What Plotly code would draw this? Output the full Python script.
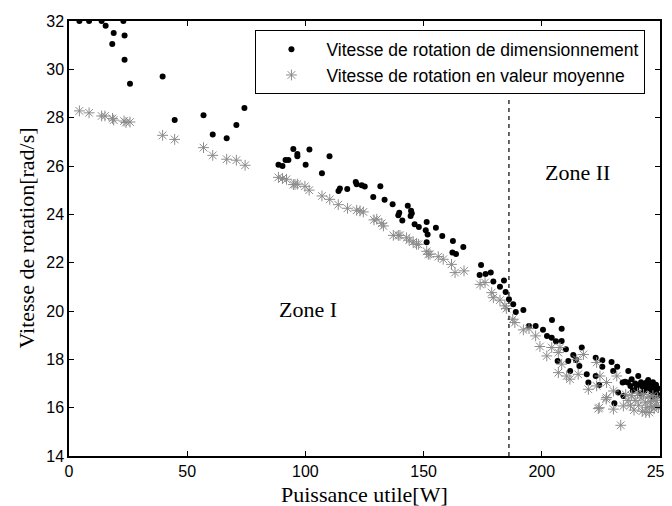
import plotly.graph_objects as go

# Vitesse de rotation de dimensionnement (points noirs)
p_dim = [4.4, 8.5, 13.8, 15.5, 18.3, 18.9, 23.0, 23.5, 23.5, 25.8,
         39.6, 44.7, 56.9, 60.8, 66.7, 70.8, 74.2,
         88.6, 90.3, 91.6, 92.8, 94.9, 96.6, 96.6, 100.1, 101.7, 107.0, 110.2,
         114.0, 114.6, 117.7, 121.3, 121.7, 123.8, 125.1, 128.7, 131.7, 133.5,
         136.9, 139.3, 139.7, 141.0, 143.3, 144.7, 145.0, 144.5, 146.2, 148.0,
         150.9, 151.3, 151.7, 151.3, 155.2, 157.9, 162.4, 162.2, 163.7, 166.8,
         174.3, 173.7, 176.2, 178.4, 179.5, 182.3, 184.0, 184.7, 186.1, 187.9,
         189.0, 192.2, 194.6, 197.4, 200.5, 202.2, 204.3, 204.2, 206.0, 206.7,
         208.4, 208.4, 210.2, 211.2, 212.0, 213.3, 214.5, 215.9, 216.9, 219.0,
         219.7, 222.8, 222.8, 224.3, 225.6, 225.6, 229.5, 230.2, 230.7, 231.9,
         232.3, 234.2, 234.5, 235.2, 236.4, 236.6, 238.0, 240.8, 244.3,
         237.5, 238.5, 239.5, 240.0, 241.0, 241.5, 242.0, 242.8, 243.5, 244.0,
         244.5, 245.0, 245.5, 246.0, 246.5, 247.0, 247.5, 248.0, 248.3, 248.6,
         249.0, 249.2, 246.8]
w_dim = [32.0, 32.0, 32.0, 31.8, 31.05, 31.5, 32.0, 31.4, 30.4, 29.4,
         29.7, 27.9, 28.1, 27.3, 27.15, 27.7, 28.4,
         26.05, 26.0, 26.25, 26.25, 26.7, 26.5, 26.4, 26.05, 26.68, 25.7, 26.4,
         24.97, 25.07, 25.05, 25.34, 25.24, 25.2, 25.15, 24.72, 25.16, 24.6,
         24.42, 23.96, 24.07, 23.75, 24.36, 24.15, 24.05, 23.93, 23.59, 23.48,
         23.34, 23.68, 23.17, 22.85, 23.45, 23.1, 22.9, 22.42, 22.36, 22.65,
         21.9, 21.49, 21.53, 21.59, 21.22, 21.0, 21.26, 20.79, 20.49, 20.28,
         19.96, 20.04, 19.38, 19.38, 19.22, 18.97, 19.63, 18.89, 18.75, 17.93,
         19.27, 18.76, 18.42, 17.93, 17.52, 18.18, 17.97, 17.72, 18.49, 17.38,
         17.04, 18.07, 17.31, 16.94, 17.96, 17.69, 17.89, 17.52, 16.18, 17.69,
         16.63, 17.04, 16.48, 17.07, 17.04, 17.52, 17.18, 17.31, 17.04,
         16.9, 16.7, 17.0, 16.8, 16.95, 16.6, 17.05, 16.85, 16.7, 17.0,
         16.9, 17.15, 16.8, 16.95, 16.65, 17.05, 16.85, 16.75, 16.95, 16.6,
         16.8, 16.5, 16.45]

# Vitesse de rotation en valeur moyenne (étoiles grises)
p_moy = [4.4, 8.5, 13.8, 15.2, 18.4, 18.9, 23.3, 24.1, 25.8,
         39.6, 44.7, 56.9, 60.8, 66.7, 70.8, 74.5,
         88.6, 90.3, 92.0, 94.9, 95.6, 96.6, 99.8, 101.6, 107.0, 110.3,
         113.9, 117.8, 121.7, 123.1, 124.5, 129.0, 130.2, 132.3, 133.0,
         137.2, 139.3, 140.0, 142.8, 143.9, 145.6, 147.0, 147.8, 151.3,
         152.0, 152.7, 156.2, 158.3, 161.8, 163.3, 167.1, 173.9, 176.0,
         178.8, 179.5, 182.3, 184.4, 185.0, 187.7, 188.6, 192.2, 194.6,
         197.4, 199.2, 202.1, 204.2, 207.0, 207.7, 208.4, 207.0, 210.5,
         211.9, 214.8, 215.4, 217.6, 219.7, 223.2, 224.6, 223.2, 227.4,
         227.2, 231.7, 230.3, 223.9, 230.3, 233.4, 234.5, 224.3, 227.4,
         236.5, 237.5, 238.0, 239.0, 239.5, 240.5, 241.0, 242.0, 242.5,
         243.0, 243.8, 244.5, 245.0, 245.5, 246.0, 246.5, 247.0, 247.5,
         248.0, 248.5, 249.0, 249.3, 244.0, 235.5]
w_moy = [28.28, 28.2, 28.07, 28.07, 27.97, 27.9, 27.86, 27.8, 27.82,
         27.27, 27.1, 26.76, 26.44, 26.28, 26.24, 26.03,
         25.53, 25.48, 25.45, 25.23, 25.24, 25.25, 25.16, 25.0, 24.76, 24.62,
         24.4, 24.25, 24.17, 24.14, 24.1, 23.77, 23.8, 23.63, 23.52,
         23.13, 23.13, 23.13, 23.03, 22.93, 22.86, 22.76, 22.76, 22.47,
         22.35, 22.35, 22.25, 22.14, 21.93, 21.59, 21.66, 21.1, 21.18,
         20.76, 20.55, 20.45, 20.21, 20.1, 19.66, 19.52, 19.22, 19.27,
         18.97, 18.53, 18.14, 18.49, 18.28, 18.49, 17.8, 17.45, 17.31,
         17.18, 18.0, 17.38, 18.2, 16.76, 16.9, 17.31, 17.87, 17.04,
         16.35, 17.31, 16.69, 15.96, 15.94, 15.27, 16.07, 16.0, 16.42,
         16.3, 16.1, 16.5, 15.9, 16.3, 16.6, 16.1, 16.4, 15.85,
         16.55, 16.2, 16.0, 16.45, 15.8, 16.25, 16.05, 16.5, 15.95,
         16.3, 16.1, 16.4, 16.0, 15.8, 16.55]

x_limite = 186.1  # limite entre zone I et zone II

fig = go.Figure()
fig.add_trace(go.Scatter(
    x=p_dim, y=w_dim, mode='markers',
    name='Vitesse de rotation de dimensionnement',
    marker=dict(symbol='circle', size=6, color='black'),
))
fig.add_trace(go.Scatter(
    x=p_moy, y=w_moy, mode='markers',
    name='Vitesse de rotation en valeur moyenne',
    marker=dict(symbol='asterisk', size=9, color='#8c8c8c',
                line=dict(color='#8c8c8c', width=1)),
))
fig.add_trace(go.Scatter(
    x=[x_limite, x_limite], y=[14, 28.9], mode='lines',
    line=dict(color='black', width=1.2, dash='4px,4px'),
    showlegend=False, hoverinfo='skip',
))

serif = dict(family='Liberation Serif', size=22, color='black')
fig.add_annotation(x=101.3, y=20.07, text='Zone I', showarrow=False, font=serif)
fig.add_annotation(x=215.1, y=25.74, text='Zone II', showarrow=False, font=serif)

# titres des axes
fig.add_annotation(x=0.5, y=0, xref='paper', yref='paper', yshift=-38,
                   yanchor='middle', text='Puissance utile[W]',
                   showarrow=False, font=serif)
fig.add_annotation(x=0, y=0.5, xref='paper', yref='paper', xshift=-43,
                   xanchor='center', textangle=-90,
                   text='Vitesse de rotation[rad/s]', showarrow=False, font=serif)

axis_style = dict(
    showline=True, linecolor='black', linewidth=1.5, mirror='ticks',
    ticks='inside', ticklen=5, tickcolor='black', tickwidth=1,
    showgrid=False, zeroline=False, automargin=False,
    ticklabeloverflow='allow',
    tickfont=dict(family='Liberation Sans', size=16, color='black'),
)

# la page ajoute 8 px de marge autour de la figure
fig.update_layout(
    width=664, height=498,
    margin=dict(l=61, r=12, t=13, b=50),
    paper_bgcolor='white', plot_bgcolor='white',
    xaxis=dict(range=[0, 250], tickvals=[0, 50, 100, 150, 200, 250], **axis_style),
    yaxis=dict(range=[14, 32], tickvals=[14, 16, 18, 20, 22, 24, 26, 28, 30, 32],
               **axis_style),
    legend=dict(x=0.975, y=0.979, xanchor='right', yanchor='top',
                bgcolor='white', bordercolor='black', borderwidth=1.2,
                font=dict(family='Liberation Sans', size=17.5, color='black'),
                itemsizing='trace', itemwidth=60, tracegroupgap=0),
    showlegend=True,
)

fig.write_html("out.html")
